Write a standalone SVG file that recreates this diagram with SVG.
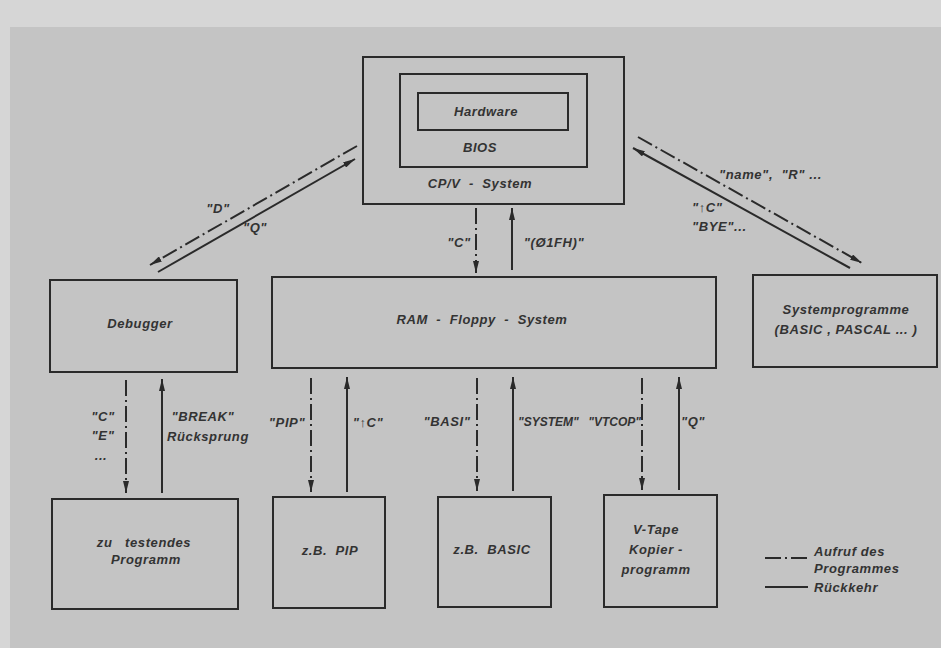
<svg xmlns="http://www.w3.org/2000/svg" width="941" height="648" viewBox="0 0 941 648">
<defs>
<marker id="ah" viewBox="0 0 12 6" refX="12" refY="3" markerWidth="12" markerHeight="6" markerUnits="userSpaceOnUse" orient="auto">
<path d="M0,0 L12,3 L0,6 Z" fill="#2a2a2a"/>
</marker>
</defs>
<style>
.box{fill:none;stroke:#2a2a2a;stroke-width:2}
.ret{fill:none;stroke:#2a2a2a;stroke-width:2}
.call{fill:none;stroke:#2a2a2a;stroke-width:2;stroke-dasharray:16 4 2 4}
text{font-family:"Liberation Sans",Arial,sans-serif;font-style:italic;font-weight:bold;font-size:13px;letter-spacing:0.6px;fill:#333;text-anchor:middle;white-space:pre}
.l{text-anchor:start}
.r{text-anchor:end}
.n{font-size:12px;letter-spacing:0}
</style>
<rect x="0" y="0" width="941" height="648" fill="#d6d6d6"/>
<rect x="10" y="27" width="931" height="621" fill="#c4c4c4"/>

<g id="cpm">
<rect class="box" x="363" y="57" width="261" height="147"/>
<text x="480" y="188">CP/V  -  System</text>
</g>
<g id="bios">
<rect class="box" x="400" y="74" width="187" height="93"/>
<text x="480" y="152">BIOS</text>
</g>
<g id="hardware">
<rect class="box" x="418" y="93" width="150" height="37"/>
<text x="486" y="116">Hardware</text>
</g>
<g id="debugger">
<rect class="box" x="50" y="280" width="187" height="92"/>
<text x="140" y="328">Debugger</text>
</g>
<g id="ram">
<rect class="box" x="272" y="277" width="444" height="91"/>
<text x="482" y="324">RAM  -  Floppy  -  System</text>
</g>
<g id="systemprogramme">
<rect class="box" x="753" y="275" width="184" height="92"/>
<text x="846" y="314">Systemprogramme</text>
<text x="846" y="334">(BASIC , PASCAL ... )</text>
</g>
<g id="testprogramm">
<rect class="box" x="52" y="499" width="186" height="110"/>
<text x="144" y="547">zu   testendes</text>
<text x="146" y="564">Programm</text>
</g>
<g id="pip">
<rect class="box" x="273" y="497" width="112" height="111"/>
<text x="330" y="555">z.B.  PIP</text>
</g>
<g id="basic">
<rect class="box" x="438" y="497" width="113" height="110"/>
<text x="492" y="554">z.B.  BASIC</text>
</g>
<g id="vtape">
<rect class="box" x="604" y="495" width="113" height="112"/>
<text x="656" y="534">V-Tape</text>
<text x="656" y="554">Kopier -</text>
<text x="656" y="574">programm</text>
</g>

<g id="connectors">
<line class="call" x1="357" y1="146" x2="150" y2="265" marker-end="url(#ah)"/>
<line class="ret" x1="158" y1="272" x2="355" y2="159" marker-end="url(#ah)"/>
<line class="call" x1="638" y1="137" x2="862" y2="263" marker-end="url(#ah)"/>
<line class="ret" x1="850" y1="268" x2="633" y2="148" marker-end="url(#ah)"/>
<line class="call" x1="476" y1="208" x2="476" y2="273" marker-end="url(#ah)"/>
<line class="ret" x1="512" y1="270" x2="512" y2="208" marker-end="url(#ah)"/>
<line class="call" x1="126" y1="380" x2="126" y2="493" marker-end="url(#ah)"/>
<line class="ret" x1="162" y1="493" x2="162" y2="379" marker-end="url(#ah)"/>
<line class="call" x1="311" y1="378" x2="311" y2="492" marker-end="url(#ah)"/>
<line class="ret" x1="347" y1="492" x2="347" y2="377" marker-end="url(#ah)"/>
<line class="call" x1="477" y1="378" x2="477" y2="491" marker-end="url(#ah)"/>
<line class="ret" x1="513" y1="491" x2="513" y2="377" marker-end="url(#ah)"/>
<line class="call" x1="642" y1="378" x2="642" y2="490" marker-end="url(#ah)"/>
<line class="ret" x1="679" y1="490" x2="679" y2="377" marker-end="url(#ah)"/>
</g>

<g id="labels">
<text x="218" y="213">"D"</text>
<text x="255" y="232">"Q"</text>
<text class="l" x="719" y="179">"name",  "R" ...</text>
<text class="l" x="692" y="212">"↑C"</text>
<text class="l" x="692" y="231">"BYE"...</text>
<text x="459" y="247">"C"</text>
<text x="554" y="247">"(Ø1FH)"</text>
<text x="103" y="421">"C"</text>
<text x="103" y="440">"E"</text>
<text x="101" y="460">...</text>
<text x="203" y="421">"BREAK"</text>
<text x="208" y="441">Rücksprung</text>
<text x="287" y="427">"PIP"</text>
<text x="368" y="427">"↑C"</text>
<text x="447" y="426">"BASI"</text>
<text class="l n" x="518" y="426">"SYSTEM"</text>
<text class="r n" x="641" y="426">"VTCOP"</text>
<text x="693" y="426">"Q"</text>
</g>

<g id="legend">
<line class="call" x1="765" y1="558" x2="808" y2="558"/>
<line class="ret" x1="765" y1="587" x2="808" y2="587"/>
<text class="l" x="814" y="556">Aufruf des</text>
<text class="l" x="814" y="573">Programmes</text>
<text class="l" x="814" y="592">Rückkehr</text>
</g>
</svg>
